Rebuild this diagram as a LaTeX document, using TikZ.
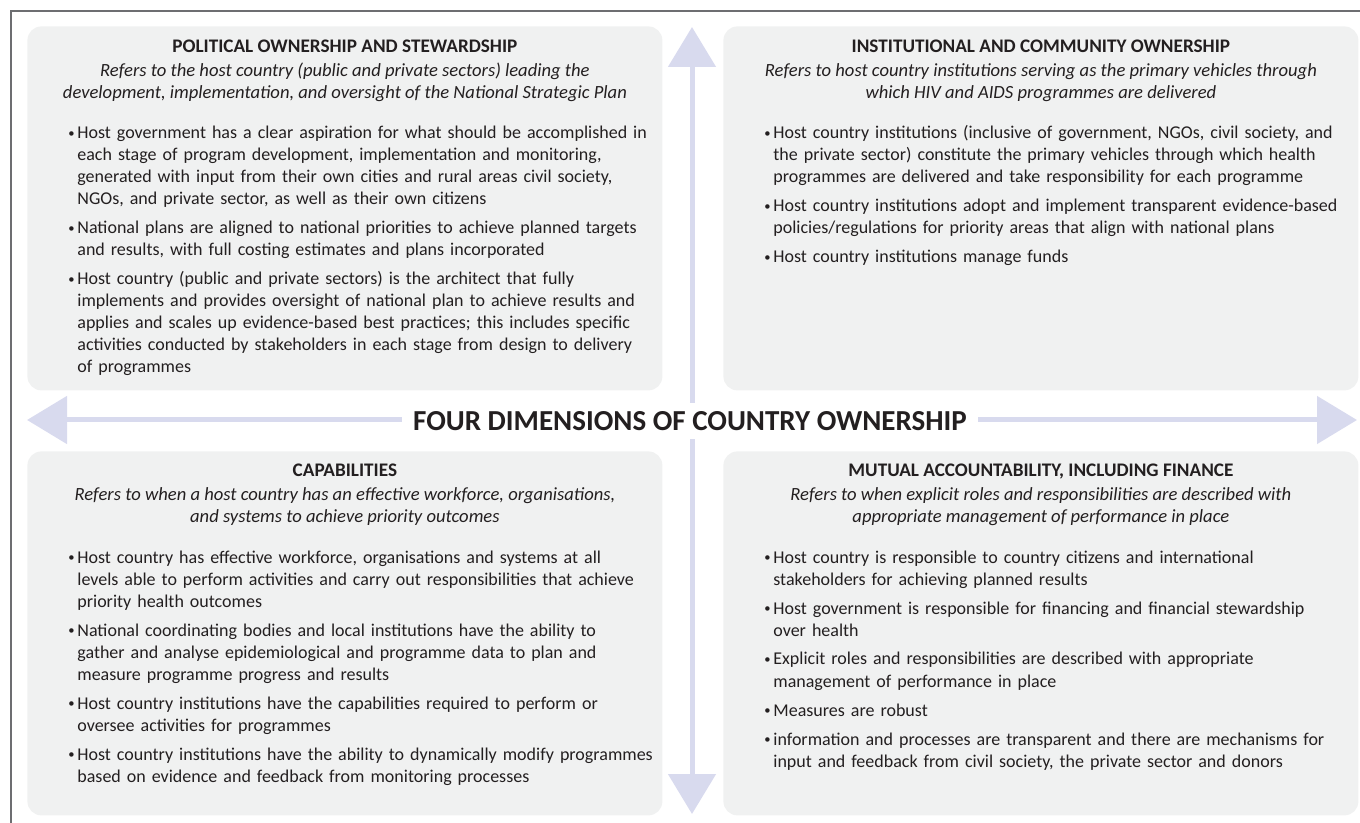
\documentclass[tikz,border=0pt]{standalone}
\usepackage{fontspec}
\setmainfont{Carlito}
\usetikzlibrary{arrows.meta,positioning}

\definecolor{boxgray}{HTML}{F0F1F1}
\definecolor{axisblue}{HTML}{D8DAEE}
\definecolor{inkgray}{HTML}{231F20}
\definecolor{framegray}{HTML}{6D6E71}

\newcommand{\bul}[1]{\hangindent=4.5pt\hangafter=1\noindent\makebox[4.5pt][l]{\raisebox{0.6pt}{\scalebox{0.7}{\textbullet}}}#1\par}
\newcommand{\headline}[1]{{\fontsize{9.6}{11}\selectfont\bfseries #1}}

\tikzset{
	panel/.style={fill=boxgray, rounded corners=7pt, minimum width=317.5pt, minimum height=182pt, inner sep=0pt, anchor=north west},
	headtext/.style={anchor=base, align=center, text=inkgray, inner sep=0pt, font=\fontsize{9.3}{11}\selectfont},
	itemtext/.style={anchor=base west, text width=300pt, align=left, text=inkgray, inner sep=0pt, font=\fontsize{9}{11}\selectfont, execute at begin node=\setlength{\parskip}{3.5pt}},
	axis/.style={draw=axisblue, line width=2.5pt, {Triangle[length=20pt,width=23.5pt]}-{Triangle[length=20pt,width=23.5pt]}},
	frame/.style={draw=framegray, line width=0.7pt},
	dimtitle/.style={fill=white, text=inkgray, inner xsep=5.5pt, inner ysep=0pt, minimum height=18pt, font=\fontsize{14.5}{17}\selectfont\bfseries}
}

\begin{document}
\begin{tikzpicture}[x=0.5pt, y=-0.5pt]
	\useasboundingbox (0,0) rectangle (1360,823);
	\draw[frame] (1360,11) -- (11,11) -- (11,823);

	\foreach \name/\x/\y in {pol/27/26, inst/723/26, cap/27/451, acc/723/451}{
		\node[panel] (\name) at (\x,\y) {};
	}

	\coordinate (up) at (692,27);
	\coordinate (down) at (692,814);
	\coordinate (left) at (27,420);
	\coordinate (right) at (1357,420);
	\draw[axis] (down) -- (up);
	\draw[axis] (left) -- (right);
	\node[dimtitle] (dims) at (690,421) {FOUR DIMENSIONS OF COUNTRY OWNERSHIP};

	\node[headtext] (polhead) at ([yshift=-36.5pt]pol.north) {\headline{POLITICAL OWNERSHIP AND STEWARDSHIP}\\[1pt]
		\textit{Refers to the host country (public and private sectors) leading the}\\
		\textit{development, implementation, and oversight of the National Strategic Plan}};
	\node[itemtext] (politems) at ([xshift=20.5pt, yshift=-56.5pt]pol.north west) {%
		\bul{Host government has a clear aspiration for what should be accomplished in\newline each stage of program development, implementation and monitoring,\newline generated with input from their own cities and rural areas civil society,\newline NGOs, and private sector, as well as their own citizens}
		\bul{National plans are aligned to national priorities to achieve planned targets\newline and results, with full costing estimates and plans incorporated}
		\bul{Host country (public and private sectors) is the architect that fully\newline implements and provides oversight of national plan to achieve results and\newline applies and scales up evidence-based best practices; this includes specific\newline activities conducted by stakeholders in each stage from design to delivery\newline of programmes}};

	\node[headtext] (insthead) at ([yshift=-36.5pt]inst.north) {\headline{INSTITUTIONAL AND COMMUNITY OWNERSHIP}\\[1pt]
		\textit{Refers to host country institutions serving as the primary vehicles through}\\
		\textit{which HIV and AIDS programmes are delivered}};
	\node[itemtext] (institems) at ([xshift=20.5pt, yshift=-56.5pt]inst.north west) {%
		\bul{Host country institutions (inclusive of government, NGOs, civil society, and\newline the private sector) constitute the primary vehicles through which health\newline programmes are delivered and take responsibility for each programme}
		\bul{Host country institutions adopt and implement transparent evidence-based\newline policies/regulations for priority areas that align with national plans}
		\bul{Host country institutions manage funds}};

	\node[headtext] (caphead) at ([yshift=-36pt]cap.north) {\headline{CAPABILITIES}\\[1pt]
		\textit{Refers to when a host country has an effective workforce, organisations,}\\
		\textit{and systems to achieve priority outcomes}};
	\node[itemtext] (capitems) at ([xshift=20.5pt, yshift=-56pt]cap.north west) {%
		\bul{Host country has effective workforce, organisations and systems at all\newline levels able to perform activities and carry out responsibilities that achieve\newline priority health outcomes}
		\bul{National coordinating bodies and local institutions have the ability to\newline gather and analyse epidemiological and programme data to plan and\newline measure programme progress and results}
		\bul{Host country institutions have the capabilities required to perform or\newline oversee activities for programmes}
		\bul{Host country institutions have the ability to dynamically modify programmes\newline based on evidence and feedback from monitoring processes}};

	\node[headtext] (acchead) at ([yshift=-36pt]acc.north) {\headline{MUTUAL ACCOUNTABILITY, INCLUDING FINANCE}\\[1pt]
		\textit{Refers to when explicit roles and responsibilities are described with}\\
		\textit{appropriate management of performance in place}};
	\node[itemtext] (accitems) at ([xshift=20.5pt, yshift=-56pt]acc.north west) {%
		\bul{Host country is responsible to country citizens and international\newline stakeholders for achieving planned results}
		\bul{Host government is responsible for financing and financial stewardship\newline over health}
		\bul{Explicit roles and responsibilities are described with appropriate\newline management of performance in place}
		\bul{Measures are robust}
		\bul{information and processes are transparent and there are mechanisms for\newline input and feedback from civil society, the private sector and donors}};
\end{tikzpicture}
\end{document}
